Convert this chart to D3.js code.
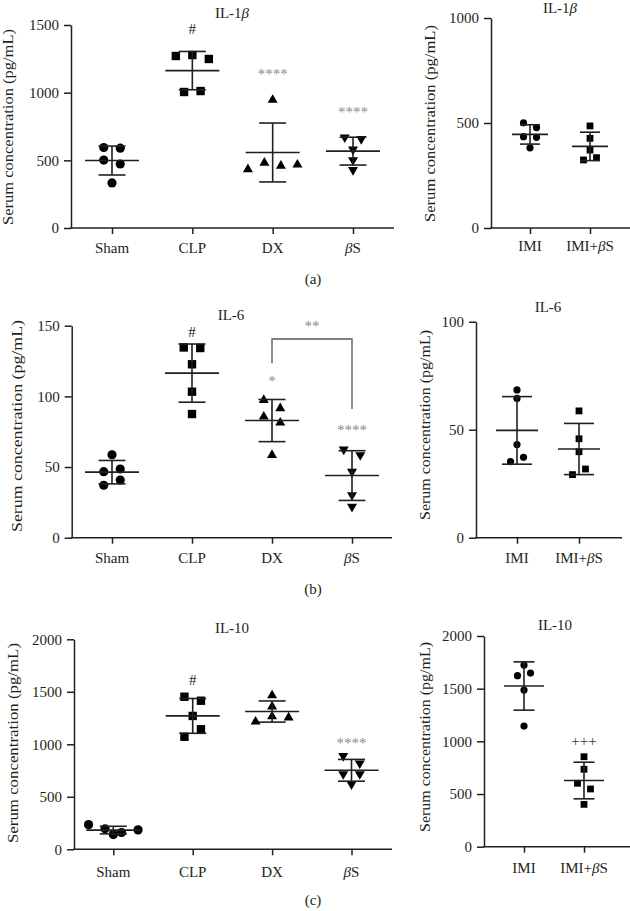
<!DOCTYPE html>
<html><head><meta charset="utf-8">
<script src="https://cdn.jsdelivr.net/npm/d3@7"></script>
<style>
body{margin:0;background:#fff;}
svg text{font-family:"Liberation Serif","Times New Roman",serif;fill:#231f20;}
</style></head><body>
<svg id="chart" width="630" height="911"></svg>
<script>
// ---------- DATA ----------
const leftCategories = ["Sham", "CLP", "DX", "βS"];
const rightCategories = ["IMI", "IMI+βS"];

const il1bLeftValues = [
  [595, 590, 502, 473, 333],
  [1271, 1278, 1249, 1005, 1012],
  [946, 434, 482, 460, 468],
  [670, 658, 581, 502, 429]
];
const il1bRightValues = [
  [501, 478, 435, 432, 382],
  [486, 427, 371, 324, 335]
];
const il6LeftValues = [
  [58.7, 46.7, 48.6, 37.1, 40.8],
  [134.6, 134.2, 122.7, 103.3, 87.5],
  [97.4, 91.5, 85.6, 81.4, 58.5],
  [62.5, 58.5, 46.7, 30.2, 21.9]
];
const il6RightValues = [
  [68.4, 64.5, 43.1, 35.2, 37.2],
  [58.7, 45.8, 39.8, 29.2, 31.8]
];
const il10LeftValues = [
  [235, 195, 160, 185, 140],
  [1453, 1415, 1270, 1072, 1143],
  [1465, 1360, 1215, 1265, 1255],
  [889, 819, 717, 717, 620]
];
const il10RightValues = [
  [1724, 1623, 1648, 1487, 1145],
  [854, 735, 602, 548, 402]
];

const il1bLeftTicks = [0, 500, 1000, 1500];
const il1bRightTicks = [0, 500, 1000];
const il6LeftTicks = [0, 50, 100, 150];
const il6RightTicks = [0, 50, 100];
const il10LeftTicks = [0, 500, 1000, 1500, 2000];
const il10RightTicks = [0, 500, 1000, 1500, 2000];

// significance labels: category, symbol, height in data units
const il1bLeftMarks = [["CLP", "#", 1470], ["DX", "****", 1153], ["βS", "****", 872]];
const il6LeftMarks = [["CLP", "#", 145.7], ["DX", "*", 112.3], ["βS", "****", 77.6]];
const il10LeftMarks = [["CLP", "#", 1612], ["βS", "****", 1036]];
const il10RightMarks = [["IMI+βS", "+++", 998]];
// bracket DX vs βS in IL-6: [from, to, topValue, fromEnd, toEnd, label]
const il6Bracket = ["DX", "βS", 140.6, 123.4, 91.1, "**"];

const yTitle = "Serum concentration (pg/mL)";
const panelLetters = ["(a)", "(b)", "(c)"];

// ---------- LAYOUT / STYLE ----------
const ink = "#231f20";
const svg = d3.select("#chart");

const leftShapes = ["circle", "square", "triangle", "triangleDown"];
const rightShapes = ["circle", "square"];

const panels = [
  {title: "IL-1β", values: il1bLeftValues, cats: leftCategories, ticks: il1bLeftTicks, marks: il1bLeftMarks,
   shapes: leftShapes, ax: 71, axEnd: 394, p0: 112, p1: 353, yb: 228, yt: 25, tx: 232, ty: 18,
   lx: 9, ly: 127, lLen: 196, catDy: 25, big: true, meanW: 54, capW: 27},
  {title: "IL-1β", values: il1bRightValues, cats: rightCategories, ticks: il1bRightTicks, marks: [],
   shapes: rightShapes, ax: 491, axEnd: 630, p0: 530, p1: 590, yb: 228, yt: 18, tx: 560, ty: 13,
   lx: 431, ly: 123.5, lLen: 197, catDy: 23, big: false, meanW: 36, capW: 20},
  {title: "IL-6", values: il6LeftValues, cats: leftCategories, ticks: il6LeftTicks, marks: il6LeftMarks,
   shapes: leftShapes, ax: 71.7, axEnd: 392, p0: 112, p1: 352, yb: 537.7, yt: 325.7, tx: 231, ty: 320,
   lx: 18, ly: 426, lLen: 212, catDy: 25, big: true, meanW: 54, capW: 27, bracket: il6Bracket},
  {title: "IL-6", values: il6RightValues, cats: rightCategories, ticks: il6RightTicks, marks: [],
   shapes: rightShapes, ax: 476, axEnd: 622, p0: 517, p1: 579, yb: 537.7, yt: 321.7, tx: 548, ty: 312,
   lx: 426.5, ly: 425, lLen: 190, catDy: 25, big: false, meanW: 42, capW: 30},
  {title: "IL-10", values: il10LeftValues, cats: leftCategories, ticks: il10LeftTicks, marks: il10LeftMarks,
   shapes: leftShapes, ax: 74, axEnd: 392, p0: 113.3, p1: 351.5, yb: 849.3, yt: 639.3, tx: 232, ty: 633,
   lx: 14, ly: 743, lLen: 200, catDy: 28, big: true, meanW: 54, capW: 27},
  {title: "IL-10", values: il10RightValues, cats: rightCategories, ticks: il10RightTicks, marks: il10RightMarks,
   shapes: rightShapes, ax: 484, axEnd: 630, p0: 524, p1: 584, yb: 846.7, yt: 636, tx: 555, ty: 630,
   lx: 426, ly: 737, lLen: 190, catDy: 26, big: false, meanW: 40, capW: 21}
];
const letterPos = [[313, 284], [313, 594], [313, 905]];

// text with italic beta
function richText(sel, str) {
  const parts = str.split(/(β)/).filter(s => s.length);
  parts.forEach(p => {
    const t = sel.append("tspan").text(p);
    if (p === "β") t.attr("font-style", "italic");
  });
  return sel;
}

function symbolPath(shape, big) {
  let type, size;
  if (shape === "circle") { type = d3.symbolCircle; size = big ? Math.PI * 4.6 * 4.6 : Math.PI * 3.6 * 3.6; }
  else if (shape === "square") { type = d3.symbolSquare; size = big ? 8.4 * 8.4 : 6.8 * 6.8; }
  else { type = d3.symbolTriangle; size = big ? 10 * 10 * Math.sqrt(3) / 4 : 8 * 8 * Math.sqrt(3) / 4; }
  return d3.symbol().type(type).size(size)();
}

// row-based horizontal spreading of points with close values
function spread(vals, y, thresh, spacing) {
  const order = vals.map((v, i) => i).sort((a, b) => vals[b] - vals[a]);
  const rows = [];
  let cur = null;
  order.forEach(i => {
    const py = y(vals[i]);
    if (cur && Math.abs(py - cur.anchor) <= thresh) cur.members.push(i);
    else { cur = {anchor: py, members: [i]}; rows.push(cur); }
  });
  const off = new Array(vals.length).fill(0);
  rows.forEach(r => {
    r.members.sort((a, b) => a - b);
    const n = r.members.length;
    r.members.forEach((i, k) => { off[i] = (k - (n - 1) / 2) * spacing; });
  });
  return off;
}

const symDy = {"#": 0.34, "*": 0.47, "+": 0.27};

panels.forEach(P => {
  const g = svg.append("g");
  const y = d3.scaleLinear().domain([0, d3.max(P.ticks)]).range([P.yb, P.yt]);
  const x = d3.scalePoint().domain(P.cats).range([P.p0, P.p1]);

  // y axis
  const yAx = g.append("g").attr("transform", `translate(${P.ax},0)`)
    .call(d3.axisLeft(y).tickValues(P.ticks).tickSize(7).tickSizeOuter(0).tickPadding(5).tickFormat(d3.format("d")));
  yAx.selectAll("path,line").attr("stroke", ink).attr("stroke-width", 1.5);
  yAx.selectAll("text").attr("font-size", 15).attr("fill", ink)
    .style("font-family", '"Liberation Serif","Times New Roman",serif');

  // x axis
  const xAx = g.append("g").attr("transform", `translate(0,${P.yb})`)
    .call(d3.axisBottom(x).tickSize(6).tickSizeOuter(0).tickFormat(""));
  xAx.select(".domain").remove();
  xAx.selectAll("line").attr("stroke", ink).attr("stroke-width", 1.5);
  g.append("line").attr("x1", P.ax - 0.75).attr("x2", P.axEnd).attr("y1", P.yb).attr("y2", P.yb)
    .attr("stroke", ink).attr("stroke-width", 1.5);

  P.cats.forEach(c => {
    richText(g.append("text").attr("x", x(c)).attr("y", P.yb + P.catDy)
      .attr("text-anchor", "middle").attr("font-size", 15), c);
  });

  // title
  richText(g.append("text").attr("x", P.tx).attr("y", P.ty).attr("text-anchor", "middle").attr("font-size", 15), P.title);

  // y-axis title
  g.append("text").attr("transform", `translate(${P.lx + 3.6},${P.ly}) rotate(-90)`)
    .attr("text-anchor", "middle").attr("font-size", 15)
    .attr("textLength", P.lLen).attr("lengthAdjust", "spacingAndGlyphs").text(yTitle);

  // points + mean ± SD
  const thresh = P.big ? 9 : 6.5;
  const spacing = P.big ? 16.5 : 13;
  P.cats.forEach((c, ci) => {
    const vals = P.values[ci];
    const cx = x(c);
    const off = spread(vals, y, thresh, spacing);
    const shape = P.shapes[ci];
    const path = symbolPath(shape, P.big);
    vals.forEach((v, i) => {
      g.append("path").attr("d", path)
        .attr("transform", `translate(${cx + off[i]},${y(v)})${shape === "triangleDown" ? " rotate(180)" : ""}`)
        .attr("fill", "#000");
    });
    const m = d3.mean(vals), s = d3.deviation(vals);
    const ln = (x1, y1, x2, y2) => g.append("line").attr("x1", x1).attr("y1", y1).attr("x2", x2).attr("y2", y2)
      .attr("stroke", ink).attr("stroke-width", 1.6);
    ln(cx - P.meanW / 2, y(m), cx + P.meanW / 2, y(m));
    ln(cx, y(m + s), cx, y(m - s));
    ln(cx - P.capW / 2, y(m + s), cx + P.capW / 2, y(m + s));
    ln(cx - P.capW / 2, y(m - s), cx + P.capW / 2, y(m - s));
  });

  // significance symbols
  P.marks.forEach(([c, sym, v]) => {
    const ch = sym[0];
    g.append("text").attr("x", x(c)).attr("y", y(v)).attr("dy", symDy[ch] + "em")
      .attr("text-anchor", "middle").attr("font-size", 15)
      .style("fill", ch === "*" ? "#8a8a8a" : (ch === "+" ? "#3a3a3a" : ink)).text(sym);
  });

  if (P.bracket) {
    const [a, b, top, ea, eb, lab] = P.bracket;
    g.append("path")
      .attr("d", `M${x(a)},${y(ea)}V${y(top)}H${x(b)}V${y(eb)}`)
      .attr("fill", "none").attr("stroke", "#555").attr("stroke-width", 1.3);
    g.append("text").attr("x", (x(a) + x(b)) / 2).attr("y", y(top) - 15).attr("dy", "0.47em")
      .attr("text-anchor", "middle").attr("font-size", 15).style("fill", "#8a8a8a").text(lab);
  }
});

panelLetters.forEach((t, i) => {
  svg.append("text").attr("x", letterPos[i][0]).attr("y", letterPos[i][1])
    .attr("text-anchor", "middle").attr("font-size", 15).text(t);
});
</script>
</body></html>
